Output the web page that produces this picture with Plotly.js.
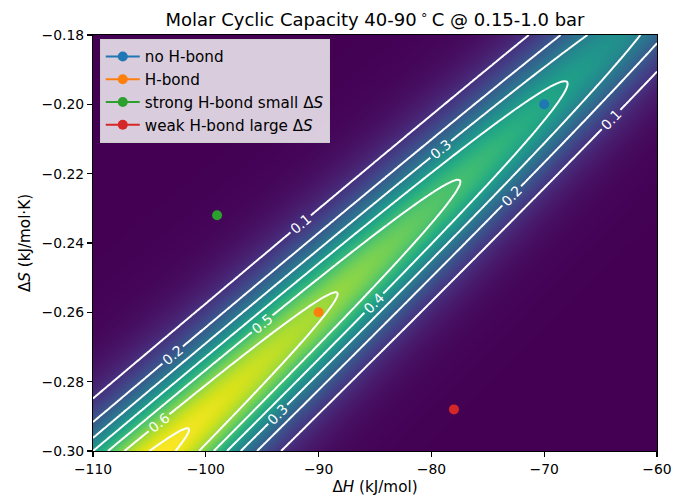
<!DOCTYPE html>
<html>
<head>
<meta charset="utf-8">
<script src="https://cdn.plot.ly/plotly-3.0.1.min.js"></script>
<style>
  html, body { margin: 0; padding: 0; background: #ffffff; }
  #chart { width: 673px; height: 496px; }
</style>
</head>
<body>
<div id="chart"></div>
<script>
// ---- Data ----
// Swing conditions stated in the title: adsorption / desorption
const cycleTempsC = [40, 90];          // °C  (adsorb at 40, desorb at 90)
const cyclePressuresBar = [0.15, 1.0]; // bar (adsorb at 0.15, desorb at 1.0)

// Axis extents
const dHRange = [-110, -60];      // kJ/mol
const dSRange = [-0.30, -0.18];   // kJ/(mol K)

// Tick labels
const xTickVals = [-110, -100, -90, -80, -70, -60];
const yTickVals = [-0.30, -0.28, -0.26, -0.24, -0.22, -0.20, -0.18];

// Contour levels drawn
const contourLevels = [0.1, 0.2, 0.3, 0.4, 0.5, 0.6, 0.7];

// Highlighted materials
const pointNames = ['no H-bond', 'H-bond', 'strong H-bond small Δ<i>S</i>', 'weak H-bond large Δ<i>S</i>'];
const pointDH = [-70, -90, -99, -78];
const pointDS = [-0.20, -0.26, -0.232, -0.288];

// ---- Styles ----
const pointColors = ['#1f77b4', '#ff7f0e', '#2ca02c', '#d62728'];
const FONT = 'DejaVu Sans, Liberation Sans, sans-serif';

// ---- Langmuir molar cyclic capacity over the (ΔH, ΔS) plane ----
const R = 8.314e-3; // kJ/(mol K)
function coverage(dH, dS, Tc, P) {
  const T = Tc + 273.15;
  const K = Math.exp(-(dH - T * dS) / (R * T));
  return K * P / (1 + K * P);
}
const NX = 281, NY = 281;
const gx = [], gy = [];
for (let i = 0; i < NX; i++) gx.push(dHRange[0] + (dHRange[1] - dHRange[0]) * i / (NX - 1));
for (let j = 0; j < NY; j++) gy.push(dSRange[0] + (dSRange[1] - dSRange[0]) * j / (NY - 1));
const gz = gy.map(s => gx.map(h =>
  coverage(h, s, cycleTempsC[0], cyclePressuresBar[0]) -
  coverage(h, s, cycleTempsC[1], cyclePressuresBar[1])));

const traces = [
  {
    type: 'heatmap', x: gx, y: gy, z: gz,
    colorscale: 'Viridis', showscale: false, zsmooth: 'best',
    hoverinfo: 'skip', showlegend: false
  },
  {
    type: 'contour', x: gx, y: gy, z: gz,
    autocontour: false,
    contours: {
      start: contourLevels[0], end: contourLevels[contourLevels.length - 1],
      size: contourLevels[1] - contourLevels[0],
      coloring: 'none', showlabels: true,
      labelfont: { family: FONT, size: 13.9, color: '#ffffff' }
    },
    line: { color: '#ffffff', width: 2, smoothing: 0.6 },
    showscale: false, showlegend: false, hoverinfo: 'skip'
  }
];

pointNames.forEach((name, k) => {
  traces.push({
    type: 'scatter', mode: 'lines+markers', name: name,
    x: [pointDH[k]], y: [pointDS[k]],
    marker: { color: pointColors[k], size: 10 },
    line: { color: pointColors[k], width: 2 },
    legendgroup: 'g' + k
  });
});

const layout = {
  width: 673, height: 496,
  margin: { l: 93, r: 16, t: 35, b: 45, pad: 0 },
  paper_bgcolor: '#ffffff', plot_bgcolor: '#440154',
  font: { family: FONT, size: 13.9, color: '#000000' },
  title: {
    text: 'Molar Cyclic Capacity 40-90\u2009<sup>∘</sup>\u2009C @ 0.15-1.0 bar',
    font: { family: FONT, size: 18, color: '#000000' },
    xref: 'paper', x: 0.5, xanchor: 'center',
    yref: 'container', y: 0.96, yanchor: 'middle'
  },
  xaxis: {
    range: dHRange, tickvals: xTickVals, tickformat: 'd',
    showgrid: false, zeroline: false,
    showline: true, mirror: true, linecolor: '#000000', linewidth: 1.1,
    ticks: 'outside', ticklen: 5, tickwidth: 1.1, tickcolor: '#000000',
    title: { text: 'Δ<i>H</i> (kJ/mol)', standoff: 5, font: { family: FONT, size: 15.2 } },
    automargin: false
  },
  yaxis: {
    range: dSRange, tickvals: yTickVals, tickformat: '.2f',
    showgrid: false, zeroline: false,
    showline: true, mirror: true, linecolor: '#000000', linewidth: 1.1,
    ticks: 'outside', ticklen: 5, tickwidth: 1.1, tickcolor: '#000000',
    title: { text: 'Δ<i>S</i> (kJ/mol·K)', standoff: 7, font: { family: FONT, size: 15.2 } },
    automargin: false
  },
  legend: {
    x: 0.012, y: 0.99, xanchor: 'left', yanchor: 'top',
    bgcolor: 'rgba(255,255,255,0.8)', bordercolor: '#cccccc', borderwidth: 1,
    font: { family: FONT, size: 15.2, color: '#000000' },
    itemwidth: 34,
    traceorder: 'grouped', tracegroupgap: 0
  },
  showlegend: true
};

Plotly.newPlot('chart', traces, layout, { displayModeBar: false, staticPlot: true });
</script>
</body>
</html>
